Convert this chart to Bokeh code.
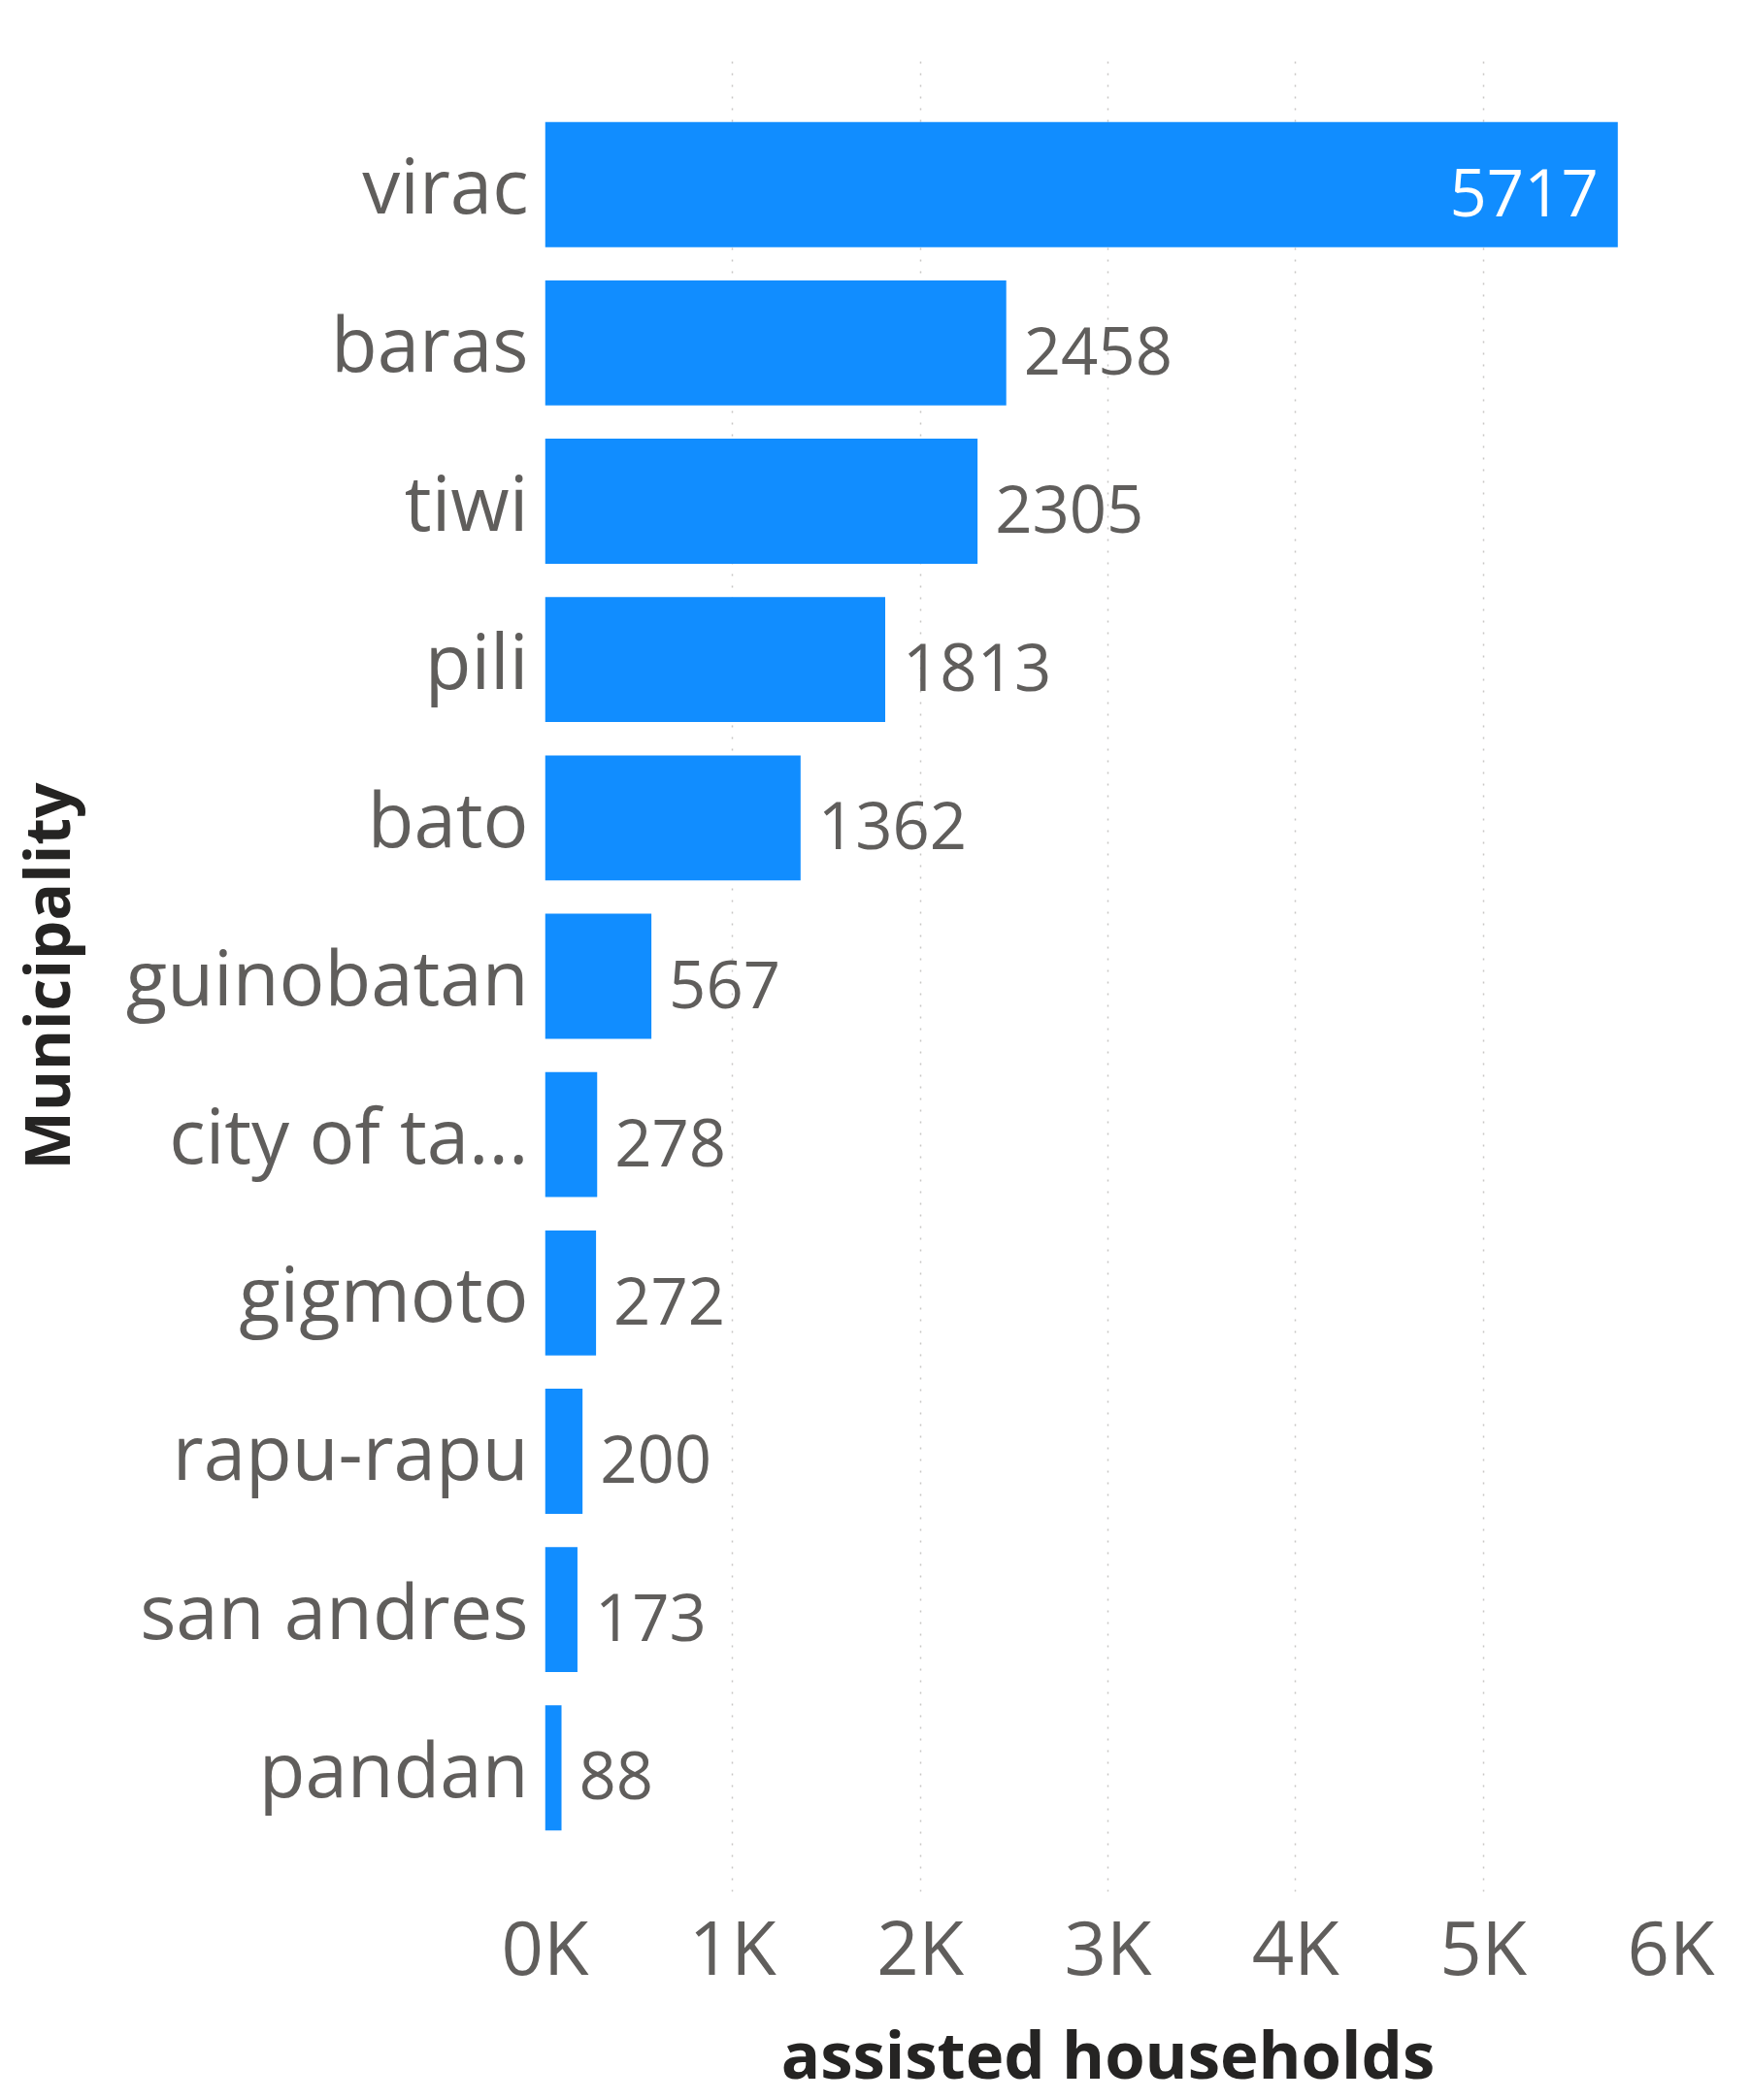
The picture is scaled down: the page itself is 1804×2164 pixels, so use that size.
from bokeh.plotting import figure
from bokeh.models import ColumnDataSource, FactorRange, Range1d, FixedTicker
from bokeh.core.properties import value
from bokeh.embed import file_html
from bokeh.resources import INLINE

municipalities = ["virac", "baras", "tiwi", "pili", "bato", "guinobatan",
                  "city of ta...", "gigmoto", "rapu-rapu", "san andres", "pandan"]
households = [5717, 2458, 2305, 1813, 1362, 567, 278, 272, 200, 173, 88]
x_ticks = [0, 1000, 2000, 3000, 4000, 5000, 6000]
x_tick_labels = ["0K", "1K", "2K", "3K", "4K", "5K", "6K"]

FONT = "Open Sans"
BLUE = "#118DFF"
GRAY = "#605E5C"
DARK = "#252423"

factors = list(reversed(municipalities))
y_range = FactorRange(factors=factors, range_padding=0.2825, range_padding_units="absolute")

p = figure(width=1804, height=2164, y_range=y_range, x_range=Range1d(0, 6000),
           output_backend="svg", toolbar_location=None,
           min_border_left=560, min_border_right=83, min_border_top=62, min_border_bottom=214)
p.outline_line_color = None
p.background_fill_color = "white"
p.border_fill_color = "white"

src = ColumnDataSource(dict(name=municipalities, val=households,
                            lab=[str(v) for v in households]))
p.hbar(y="name", right="val", left=0, height=0.79, source=src, color=BLUE, line_color=None)

mx = max(households)
out_idx = [i for i, v in enumerate(households) if v < 0.8 * mx]
in_idx = [i for i, v in enumerate(households) if v >= 0.8 * mx]
src_out = ColumnDataSource(dict(name=[municipalities[i] for i in out_idx],
                                val=[households[i] for i in out_idx],
                                lab=[str(households[i]) for i in out_idx]))
src_in = ColumnDataSource(dict(name=[municipalities[i] for i in in_idx],
                               val=[households[i] for i in in_idx],
                               lab=[str(households[i]) for i in in_idx]))
p.text(x="val", y="name", text="lab", source=src_out, x_offset=18, y_offset=8,
       text_font=value(FONT), text_font_size="67px", text_color=GRAY,
       text_align="left", text_baseline="middle")
p.text(x="val", y="name", text="lab", source=src_in, x_offset=-20, y_offset=8,
       text_font=value(FONT), text_font_size="67px", text_color="white",
       text_align="right", text_baseline="middle")

# grid
p.ygrid.grid_line_color = None
p.xgrid.grid_line_color = "#C8C6C4"
p.xgrid.grid_line_dash = "2 10"
p.xgrid.grid_line_width = 1.5
p.xaxis.ticker = FixedTicker(ticks=x_ticks)
p.xaxis.major_label_overrides = {t: l for t, l in zip(x_ticks, x_tick_labels)}

for ax in (p.xaxis, p.yaxis):
    ax.axis_line_color = None
    ax.major_tick_line_color = None
    ax.minor_tick_line_color = None
    ax.major_tick_out = 0
    ax.major_tick_in = 0
    ax.major_label_text_font = FONT
    ax.major_label_text_color = GRAY
    ax.axis_label_text_font = FONT
    ax.axis_label_text_color = DARK
    ax.axis_label_text_font_style = "bold"

p.xaxis.major_label_text_font_size = "76px"
p.yaxis.major_label_text_font_size = "78px"
p.xaxis.major_label_text_line_height = 0.8
p.xaxis.axis_label_text_line_height = 0.8
p.xaxis.major_label_standoff = 4
p.yaxis.major_label_standoff = 17
p.xaxis.axis_label = "assisted households"
p.xaxis.axis_label_text_font_size = "67px"
p.xaxis.axis_label_standoff = 10
p.yaxis.axis_label = "Municipality"
p.yaxis.axis_label_text_font_size = "64px"
p.yaxis.axis_label_standoff = 36

open("out.html", "w").write(file_html(p, INLINE))
